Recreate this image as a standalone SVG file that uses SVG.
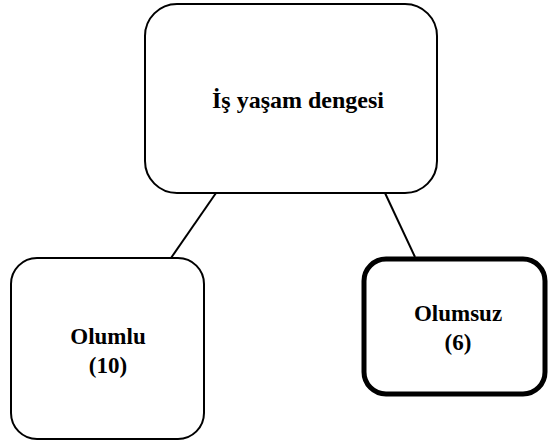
<svg xmlns="http://www.w3.org/2000/svg" width="548" height="445" viewBox="0 0 548 445">
  <style>
    .box { fill: #ffffff; stroke: #000000; stroke-width: 2; }
    .thick { stroke-width: 5; }
    .link { stroke: #000000; stroke-width: 2; fill: none; }
    .label { fill: #000000; text-anchor: middle; }
  </style>
  <rect width="548" height="445" fill="#ffffff"/>
  <g id="connectors">
    <line class="link" x1="216" y1="193" x2="171" y2="258"/>
    <line class="link" x1="385" y1="193" x2="415" y2="257"/>
  </g>
  <g id="root">
    <rect class="box" x="145" y="4" width="292" height="189" rx="32" ry="32"/>
    <text class="label" x="298" y="108" font-family="Liberation Serif" font-weight="bold" font-size="24">İş yaşam dengesi</text>
  </g>
  <g id="olumlu">
    <rect class="box" x="11" y="258" width="193" height="181" rx="26" ry="26"/>
    <text class="label" x="108" y="344" font-family="Liberation Serif" font-weight="bold" font-size="23">Olumlu</text>
    <text class="label" x="108" y="373" font-family="Liberation Serif" font-weight="bold" font-size="23">(10)</text>
  </g>
  <g id="olumsuz">
    <rect class="box thick" x="364" y="259" width="181" height="135" rx="22" ry="22"/>
    <text class="label" x="458" y="321" font-family="Liberation Serif" font-weight="bold" font-size="23">Olumsuz</text>
    <text class="label" x="458" y="350" font-family="Liberation Serif" font-weight="bold" font-size="23">(6)</text>
  </g>
</svg>
